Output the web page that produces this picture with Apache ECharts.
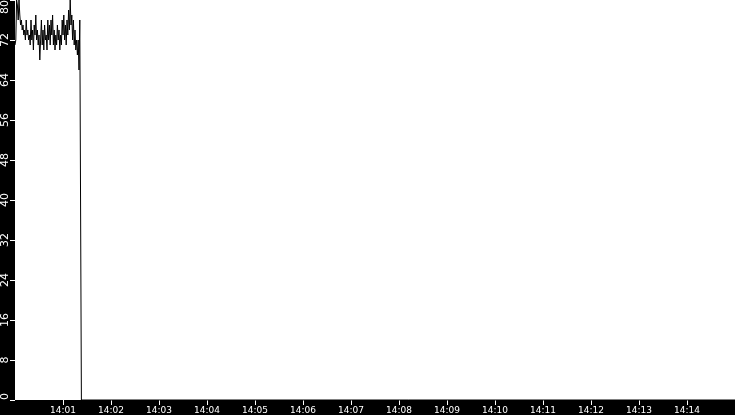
<!DOCTYPE html>
<html>
<head>
<meta charset="utf-8">
<script src="https://cdn.jsdelivr.net/npm/echarts@6/dist/echarts.min.js"></script>
<style>
html,body{margin:0;padding:0;background:#000;}
#c{width:735px;height:415px;}
</style>
</head>
<body>
<div id="c"></div>
<script>
// seconds after 14:00:00
var seconds = [0,1,2,3,4,5,6,7,8,9,10,11,12,13,14,15,16,17,18,19,20,21,22,23,24,25,26,27,28,29,30,31,32,33,34,35,36,37,38,39,40,41,42,43,44,45,46,47,48,49,50,51,52,53,54,55,56,57,58,59,60,61,62,63,64,65,66,67,68,69,70,71,72,73,74,75,76,77,78,79,80,81,82,83,900];
var values = [71,72,80,79,76,80,77,75,76,74,75,73,74,72,76,73,74,72,73,71,76,72,74,70,75,73,77,72,74,71,73,68,72,76,71,74,70,75,72,73,70,76,72,75,71,76,73,77,71,74,70,73,71,75,72,74,70,73,71,76,73,77,72,75,71,76,73,78,74,80,75,77,72,76,71,74,70,72,69,72,66,76,38,0,0];
var tickSeconds = [60,120,180,240,300,360,420,480,540,600,660,720,780,840];
var tickLabels = ['14:01','14:02','14:03','14:04','14:05','14:06','14:07','14:08','14:09','14:10','14:11','14:12','14:13','14:14'];

var data = seconds.map(function(s,i){return [s, values[i]];});
var chart = echarts.init(document.getElementById('c'));
chart.setOption({
  backgroundColor: '#000',
  animation: false,
  grid: {left: 15, right: 0, top: 0, bottom: 15, show: true, backgroundColor: '#fff', borderWidth: 0, outerBoundsMode: 'none', containLabel: false},
  xAxis: {
    type: 'value', min: 0, max: 900, interval: 60,
    axisLine: {show: false},
    splitLine: {show: false},
    axisTick: {show: true, length: 5, lineStyle: {color: '#fff'}, customValues: tickSeconds},
    axisLabel: {
      color: '#fff', fontFamily: 'DejaVu Sans', fontSize: 9, margin: 6,
      customValues: tickSeconds,
      formatter: function(v){ var i = tickSeconds.indexOf(v); return i >= 0 ? tickLabels[i] : ''; }
    }
  },
  yAxis: {
    type: 'value', min: 0, max: 80, interval: 8,
    axisLine: {show: false},
    splitLine: {show: false},
    axisTick: {show: true, length: 5, lineStyle: {color: '#fff'}},
    axisLabel: {
      color: '#fff', fontFamily: 'DejaVu Sans', fontSize: 11, margin: 4, rotate: 90,
      alignMinLabel: 'left', alignMaxLabel: 'right'
    }
  },
  series: [{
    type: 'line', data: data, showSymbol: false, symbol: 'none',
    lineStyle: {color: '#000', width: 1}, clip: false
  }]
});
</script>
</body>
</html>
